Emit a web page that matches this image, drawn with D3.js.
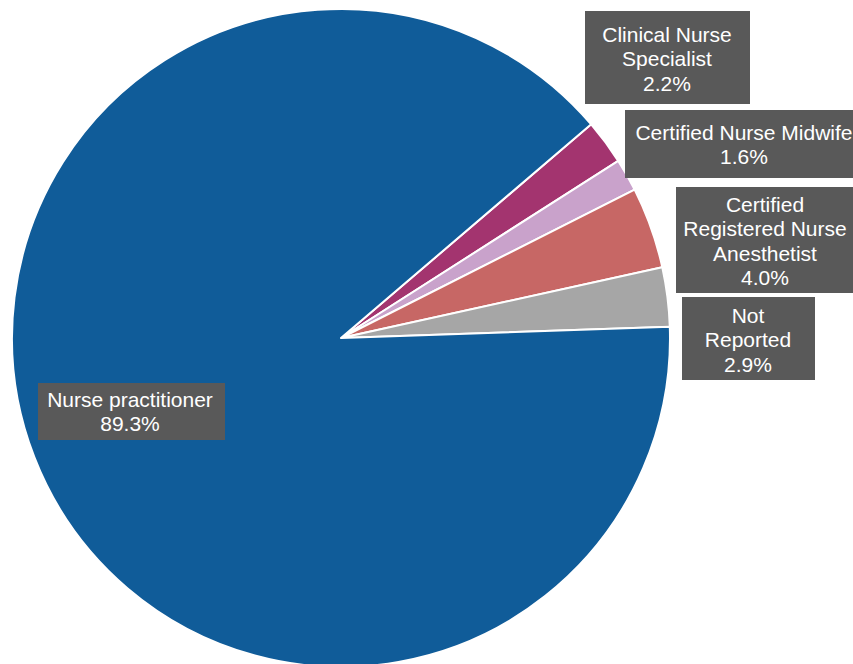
<!DOCTYPE html>
<html>
<head>
<meta charset="utf-8">
<script src="https://cdn.jsdelivr.net/npm/d3@7"></script>
<style>
  body { margin: 0; background: #fff; }
  svg { display: block; font-family: "Liberation Sans", Arial, sans-serif; }
</style>
</head>
<body>
<svg id="chart" width="853" height="664"></svg>
<script>
// data
const categories = ["Clinical Nurse Specialist", "Certified Nurse Midwife",
    "Certified Registered Nurse Anesthetist", "Not Reported", "Nurse practitioner"];
const shares = [2.2, 1.6, 4.0, 2.9, 89.3];
const labelLines = [
    ["Clinical Nurse", "Specialist"],
    ["Certified Nurse Midwife"],
    ["Certified", "Registered Nurse", "Anesthetist"],
    ["Not", "Reported"],
    ["Nurse practitioner"]
];
const colors = ["#a3346f", "#c9a2cb", "#c76765", "#a6a6a6", "#105c99"];

// label boxes (x, y, w, h, first baseline)
const boxes = [
    { x: 585, y: 11, w: 165, h: 93, cx: 667, base: 42 },
    { x: 625, y: 110, w: 240, h: 68, cx: 744, base: 140 },
    { x: 676, y: 187, w: 180, h: 106, cx: 765, base: 212 },
    { x: 682, y: 297, w: 133, h: 83, cx: 748, base: 323 },
    { x: 38, y: 383, w: 187, h: 57, cx: 130, base: 407 }
];

const cx = 341, cy = 338, radius = 329;
const start = 49.5 * Math.PI / 180;

const svg = d3.select("#chart");

const pie = d3.pie()
    .sort(null)
    .value(d => d)
    .startAngle(start)
    .endAngle(start + 2 * Math.PI);

const arc = d3.arc().innerRadius(0).outerRadius(radius);

svg.append("g")
    .attr("transform", `translate(${cx}, ${cy})`)
    .selectAll("path")
    .data(pie(shares))
    .join("path")
    .attr("d", arc)
    .attr("fill", (d, i) => colors[i])
    .attr("stroke", "#fff")
    .attr("stroke-width", 2)
    .attr("stroke-linejoin", "round");

const lineH = 24.3;

const lab = svg.append("g")
    .selectAll("g")
    .data(categories)
    .join("g");

lab.append("rect")
    .attr("x", (d, i) => boxes[i].x)
    .attr("y", (d, i) => boxes[i].y)
    .attr("width", (d, i) => boxes[i].w)
    .attr("height", (d, i) => boxes[i].h)
    .attr("fill", "#595959");

lab.each(function(d, i) {
    const b = boxes[i];
    const lines = labelLines[i].concat([shares[i].toFixed(1) + "%"]);
    const t = d3.select(this).append("text")
        .attr("text-anchor", "middle")
        .attr("fill", "#fff")
        .attr("font-size", 21);
    lines.forEach((l, j) => {
        t.append("tspan")
            .attr("x", b.cx)
            .attr("y", b.base + j * lineH)
            .text(l);
    });
});
</script>
</body>
</html>
